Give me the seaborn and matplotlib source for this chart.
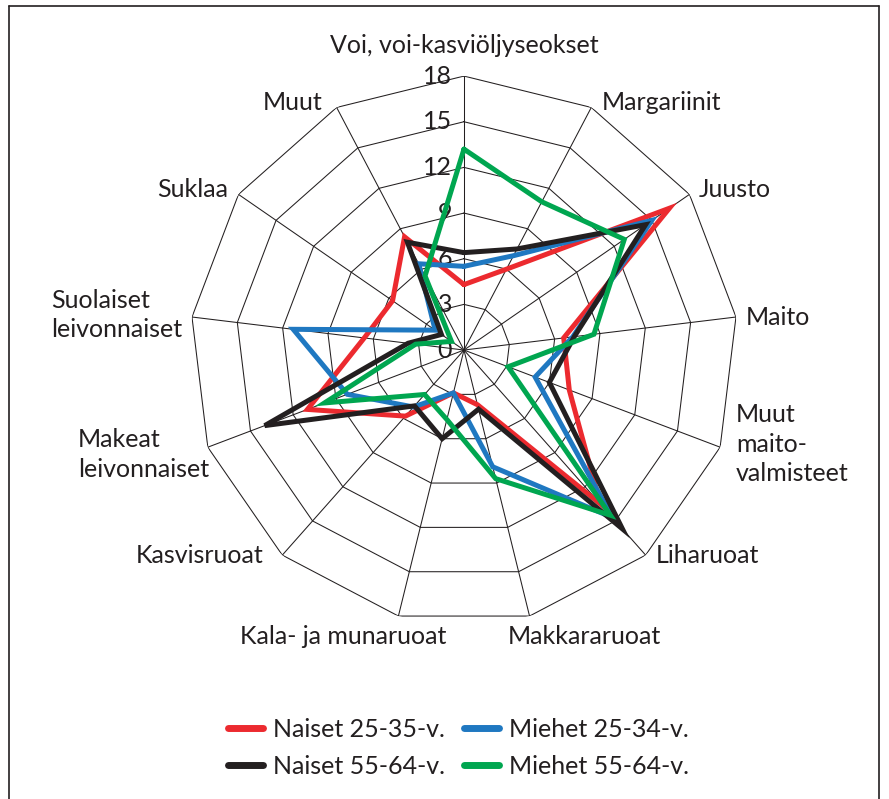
import numpy as np
import pandas as pd
import matplotlib
matplotlib.use('Agg')
import matplotlib.pyplot as plt
from matplotlib.lines import Line2D
import seaborn as sns

# Kategoriat myötäpäivään ylhäältä alkaen
kategoriat = ['Voi, voi-kasviöljyseokset', 'Margariinit', 'Juusto', 'Maito',
              'Muut\nmaito-\nvalmisteet', 'Liharuoat', 'Makkararuoat',
              'Kala- ja munaruoat', 'Kasvisruoat', 'Makeat\nleivonnaiset',
              'Suolaiset\nleivonnaiset', 'Suklaa', 'Muut']

# Osuudet (%) ryhmittäin
naiset_25_35 = [4.3, 6.0, 16.4, 6.6, 7.4, 13.5, 3.7, 2.9, 5.8, 11.0, 6.6, 5.7, 8.4]
miehet_25_34 = [5.5, 7.0, 15.0, 7.2, 5.0, 14.7, 7.9, 2.9, 5.0, 8.2, 11.3, 2.3, 6.4]
naiset_55_64 = [6.4, 7.5, 14.5, 7.3, 6.0, 15.7, 4.0, 6.0, 4.9, 14.0, 3.7, 1.8, 8.0]
miehet_55_64 = [13.2, 11.0, 12.8, 8.6, 3.1, 14.5, 8.7, 4.7, 3.9, 9.8, 3.2, 1.0, 5.5]

sarjat = ['Naiset 25-35-v.', 'Miehet 25-34-v.', 'Naiset 55-64-v.', 'Miehet 55-64-v.']
arvot = [naiset_25_35, miehet_25_34, naiset_55_64, miehet_55_64]
varit = ['#ec2a2f', '#1f78c1', '#231f20', '#00a650']
asteikko = [0, 3, 6, 9, 12, 15, 18]

# Tyyli
sns.set_theme(style='white')
plt.rcParams['font.family'] = ['Lato', 'DejaVu Sans']
teksti_vari = '#231f20'
fs = 18

n = len(kategoriat)
kulmat = np.linspace(0, 2 * np.pi, n, endpoint=False)
kulmat_kiinni = np.append(kulmat, 2 * np.pi)

# Pitkä taulukko seabornia varten (suljettu monikulmio)
rivit = []
for nimi, sarja in zip(sarjat, arvot):
    for i, a in enumerate(kulmat_kiinni):
        rivit.append({'kulma': a, 'arvo': sarja[i % n], 'ryhma': nimi})
df = pd.DataFrame(rivit)

fig = plt.figure(figsize=(8.89, 7.99), dpi=100)
ax = fig.add_axes([0.2137, 0.219, 0.6164, 0.6858], projection='polar')
ax.set_theta_zero_location('N')
ax.set_theta_direction(-1)
ax.grid(False)
ax.spines['polar'].set_visible(False)
ax.set_facecolor('white')

# Monikulmioruudukko
for r in asteikko[1:]:
    ax.plot(kulmat_kiinni, [r] * (n + 1), color=teksti_vari, lw=0.75, zorder=1)
for a in kulmat:
    ax.plot([a, a], [0, asteikko[-1]], color=teksti_vari, lw=0.75, zorder=1)

sns.lineplot(data=df, x='kulma', y='arvo', hue='ryhma', hue_order=sarjat,
             palette=varit, sort=False, estimator=None, units='ryhma',
             lw=3.6, legend=False, ax=ax, zorder=3)
for ln in ax.get_lines():
    ln.set_solid_joinstyle('miter')

ax.set_ylim(0, 18)
ax.set_xticks([])
ax.set_yticks([])
ax.set_xlabel('')
ax.set_ylabel('')

# Asteikon luvut
for r in asteikko:
    ax.annotate(str(r), xy=(0, r), xytext=(-12, 0), textcoords='offset pixels',
                ha='right', va='center', fontsize=fs, color=teksti_vari, zorder=2)

# Kategorioiden nimet: (siirtymä x, siirtymä y, ha)
sijoittelu = [(0, 31, 'center'), (10, 5, 'left'), (9, 5, 'left'), (10, 0, 'left'),
              (16, 3, 'left'), (10, 0, 'left'), (-22, -20, 'left'), (48, -20, 'right'),
              (-19, 0, 'right'), (1, -7, 'right'), (-10, 2, 'right'), (-10, 5, 'right'),
              (-14, 5, 'right')]
for a, nimi, (dx, dy, ha) in zip(kulmat, kategoriat, sijoittelu):
    ax.annotate(nimi, xy=(a, 18), xytext=(dx, dy), textcoords='offset pixels',
                ha=ha, va='center', multialignment='left', fontsize=fs,
                color=teksti_vari, linespacing=1.35, annotation_clip=False)

# Selite
kahvat = [Line2D([], [], color=varit[i], lw=5) for i in [0, 2, 1, 3]]
nimet = [sarjat[i] for i in [0, 2, 1, 3]]
fig.legend(kahvat, nimet, loc='center', bbox_to_anchor=(0.516, 0.064), ncol=2,
           frameon=False, fontsize=fs, handlelength=1.4, handletextpad=0.4,
           columnspacing=0.76, labelspacing=0.57, labelcolor=teksti_vari)

# Kehys (alareuna jää kuvan ulkopuolelle)
for xs, ys in [([9 / 889, 9 / 889], [0, 1 - 6 / 799]),
               ([9 / 889, 879 / 889], [1 - 6 / 799, 1 - 6 / 799]),
               ([879 / 889, 879 / 889], [1 - 6 / 799, 0])]:
    fig.add_artist(Line2D(xs, ys, transform=fig.transFigure, color=teksti_vari, lw=1.2))

fig.savefig('out.png', dpi=100)
